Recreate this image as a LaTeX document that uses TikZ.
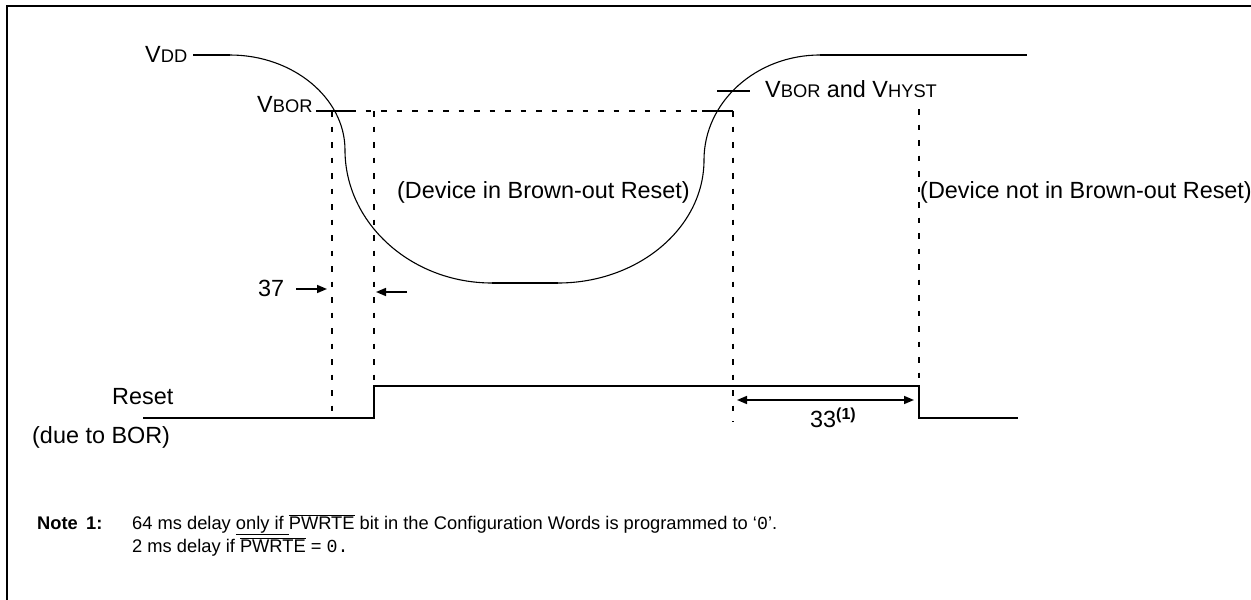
\documentclass[tikz,border=0pt]{standalone}
\usepackage{fontspec}
\setmainfont{Liberation Sans}
\newfontfamily\monofont{Liberation Mono}
\usetikzlibrary{arrows.meta}
\newcommand\smsub[1]{{\fontsize{18.3}{20}\selectfont #1}}
\begin{document}
\begin{tikzpicture}[x=1pt,y=-1pt,
  sig/.style={line width=2.2pt},
  curvel/.style={line width=1.1pt},
  dsh/.style={line width=2pt, dash pattern=on 5.5pt off 10pt},
  lbl/.style={anchor=base west, inner sep=0pt, font=\fontsize{23.4}{27}\selectfont},
  notetxt/.style={anchor=base west, inner sep=0pt, font=\fontsize{18.3}{22}\selectfont},
  notebold/.style={anchor=base west, inner sep=0pt, font=\bfseries\fontsize{18.3}{22}\selectfont},
  arr/.style={line width=1.6pt, -{Triangle[length=10pt,width=8pt]}},
  darr/.style={line width=1.6pt, {Triangle[length=10pt,width=8pt]}-{Triangle[length=10pt,width=8pt]}}]
\useasboundingbox (0,0) rectangle (1251,600);
% frame
\draw[line width=2.5pt] (7,600) -- (7,6) -- (1251,6);

% key coordinates
\coordinate (vddA) at (193,55);
\coordinate (vddB) at (230,55);
\coordinate (fallEnd) at (345,150);
\coordinate (botL) at (492,283);
\coordinate (botR) at (558,283);
\coordinate (riseMid) at (704,160);
\coordinate (topR) at (820,55);
\coordinate (vddEnd) at (1027,55);

% VDD waveform
\draw[sig] (vddA) -- (vddB);
\draw[curvel] (vddB) .. controls (293,55) and (345,98) .. (fallEnd)
  .. controls (345,223) and (411,283) .. (botL);
\draw[sig] (botL) -- (botR);
\draw[curvel] (botR) .. controls (638,283) and (704,228) .. (riseMid)
  .. controls (704,102) and (756,55) .. (topR);
\draw[sig] (topR) -- (vddEnd);

% VBOR level
\draw[sig] (316,111) -- (350,111);
\draw[dsh] (350,111) -- (702,111);
\draw[sig] (702,111) -- (733,111);
\draw[sig] (717,91) -- (750,91);

% dashed verticals
\draw[dsh] (332,111) -- (332,415);
\draw[dsh] (374,111) -- (374,386);
\draw[dsh] (733,111) -- (733,422);
\draw[dsh] (919,109) -- (919,386);

% Reset waveform
\draw[sig] (143,418) -- (374,418) -- (374,386) -- (919,386) -- (919,418) -- (1018,418);

% labels
\node[lbl] (vdd) at (145,62) {V\smsub{DD}};
\node[lbl] (vbor) at (257,112) {V\smsub{BOR}};
\node[lbl] (vborh) at (765,97) {V\smsub{BOR} and V\smsub{HYST}};
\node[lbl] (inbor) at (397,198) {(Device in Brown-out Reset)};
\node[lbl] (notbor) at (920,198) {(Device not in Brown-out Reset)};
\node[lbl] (t37) at (258,296) {37};
\node[lbl] (reset) at (112,404) {Reset};
\node[lbl] (due) at (32,443) {(due to BOR)};
\node[lbl] (t33) at (810,427) {33\raisebox{8pt}{\bfseries\fontsize{16}{18}\selectfont (1)}};

% arrows
\coordinate (a37s) at (296,289);
\coordinate (a37e) at (327,289);
\coordinate (b37s) at (407,292);
\coordinate (b37e) at (376,292);
\draw[arr] (a37s) -- (a37e);
\draw[arr] (b37s) -- (b37e);
\coordinate (a33s) at (737,400);
\coordinate (a33e) at (914,400);
\draw[darr] (a33s) -- (a33e);

% note
\node[notebold] (noteN) at (37,529) {Note};
\node[notebold] (note1) at (86,529) {1:};
\node[notetxt] (noteL1) at (132,529) {64 ms delay \underline{only if }$\overline{\mbox{PWRTE}}$ bit in the Configuration Words is programmed to ‘{\monofont 0}’.};
\node[notetxt] (noteL2) at (132,552) {2 ms delay if $\overline{\mbox{PWRTE}}$ = {\monofont 0.}};
\end{tikzpicture}
\end{document}
